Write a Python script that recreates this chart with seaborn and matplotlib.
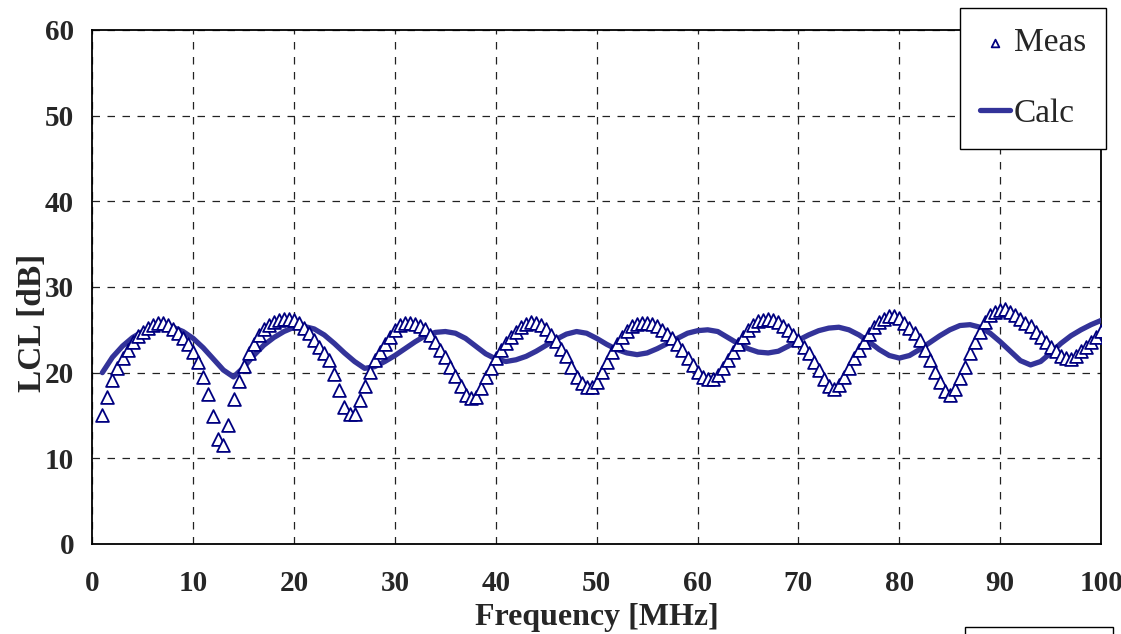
import numpy as np
import pandas as pd
import matplotlib
matplotlib.use('Agg')
import matplotlib.pyplot as plt
import seaborn as sns
from matplotlib.patches import Rectangle

# measured LCL, sweep 1 .. 100 MHz in 0.5 MHz steps
meas_freq = np.arange(1.0, 100.01, 0.5)
meas_lcl = [
    15.0, 17.2, 19.1, 20.6, 21.7, 22.7, 23.6, 24.3, 24.8, 25.2,   # 1.0 - 5.5
    25.6, 25.8, 25.8, 25.6, 25.1, 24.6, 24.0, 23.4, 22.4, 21.3,   # 6.0 - 10.5
    19.5, 17.5, 14.9, 12.2, 11.5, 13.9, 16.9, 19.0, 20.8, 22.3,   # 11.0 - 15.5
    23.4, 24.4, 25.1, 25.6, 25.9, 26.1, 26.3, 26.3, 26.1, 25.8,   # 16.0 - 20.5
    25.2, 24.6, 23.8, 23.0, 22.3, 21.5, 19.9, 18.0, 16.0, 15.2,   # 21.0 - 25.5
    15.2, 16.8, 18.4, 20.1, 21.5, 22.4, 23.4, 24.2, 25.0, 25.6,   # 26.0 - 30.5
    25.8, 25.8, 25.7, 25.4, 25.1, 24.4, 23.6, 22.7, 21.8, 20.7,   # 31.0 - 35.5
    19.6, 18.4, 17.4, 17.0, 17.2, 18.2, 19.5, 20.5, 21.7, 22.6,   # 36.0 - 40.5
    23.5, 24.2, 24.8, 25.3, 25.7, 25.9, 25.8, 25.6, 25.1, 24.4,   # 41.0 - 45.5
    23.7, 22.8, 21.9, 20.7, 19.5, 18.8, 18.3, 18.3, 18.9, 20.1,   # 46.0 - 50.5
    21.3, 22.4, 23.4, 24.2, 24.9, 25.4, 25.7, 25.8, 25.8, 25.7,   # 51.0 - 55.5
    25.4, 25.0, 24.5, 24.0, 23.4, 22.6, 21.7, 20.9, 20.1, 19.5,   # 56.0 - 60.5
    19.2, 19.2, 19.7, 20.5, 21.5, 22.4, 23.4, 24.2, 25.0, 25.6,   # 61.0 - 65.5
    26.0, 26.2, 26.3, 26.1, 25.9, 25.4, 25.0, 24.4, 23.8, 23.0,   # 66.0 - 70.5
    22.3, 21.3, 20.3, 19.3, 18.4, 18.1, 18.6, 19.5, 20.6, 21.7,   # 71.0 - 75.5
    22.6, 23.6, 24.5, 25.3, 25.9, 26.3, 26.6, 26.6, 26.4, 25.8,   # 76.0 - 80.5
    25.2, 24.6, 23.8, 22.7, 21.5, 20.1, 18.9, 17.8, 17.4, 18.1,   # 81.0 - 85.5
    19.4, 20.7, 22.3, 23.6, 24.8, 25.9, 26.7, 27.1, 27.3, 27.4,   # 86.0 - 90.5
    27.1, 26.7, 26.3, 25.8, 25.4, 24.8, 24.2, 23.6, 23.0, 22.5,   # 91.0 - 95.5
    21.9, 21.7, 21.6, 21.9, 22.5, 23.0, 23.6, 24.2, 24.9,         # 96.0 - 100.0
]

# calculated LCL, 1 MHz steps
calc_freq = np.arange(1, 101)
calc_lcl = [
    20.0, 21.8, 23.1, 24.1, 24.8, 25.3, 25.5, 25.3, 24.8, 24.0,   # 1 - 10
    22.9, 21.6, 20.3, 19.5, 20.6, 22.0, 23.2, 24.1, 24.8, 25.3,   # 11 - 20
    25.4, 25.1, 24.4, 23.4, 22.3, 21.3, 20.5, 20.7, 21.3, 22.0,   # 21 - 30
    22.8, 23.6, 24.3, 24.7, 24.8, 24.6, 24.0, 23.1, 22.2, 21.6,   # 31 - 40
    21.3, 21.5, 21.9, 22.5, 23.2, 23.9, 24.5, 24.8, 24.6, 24.0,   # 41 - 50
    23.3, 22.7, 22.3, 22.1, 22.3, 22.8, 23.4, 24.0, 24.6, 24.9,   # 51 - 60
    25.0, 24.8, 24.1, 23.4, 22.8, 22.4, 22.3, 22.5, 23.1, 23.8,   # 61 - 70
    24.4, 24.9, 25.2, 25.3, 25.0, 24.4, 23.6, 22.7, 22.0, 21.7,   # 71 - 80
    22.0, 22.7, 23.5, 24.3, 25.0, 25.5, 25.6, 25.3, 24.6, 23.6,   # 81 - 90
    22.5, 21.4, 20.9, 21.3, 22.3, 23.4, 24.3, 25.0, 25.6, 26.1,   # 91 - 100
]

x_ticks = list(range(0, 101, 10))
y_ticks = list(range(0, 61, 10))

meas = pd.DataFrame({"freq": meas_freq, "lcl": meas_lcl})
calc = pd.DataFrame({"freq": calc_freq, "lcl": calc_lcl})

sns.set_style("white")
plt.rcParams['font.family'] = ['Liberation Serif', 'DejaVu Serif']

fig = plt.figure(figsize=(11.21, 6.34), dpi=100)
ax = fig.add_axes([0.0823, 0.142, 0.900, 0.8107])

sns.lineplot(data=calc, x="freq", y="lcl", color="#333399", linewidth=3.8,
             label="Calc", ax=ax, zorder=3)
sns.scatterplot(data=meas, x="freq", y="lcl", marker="^", s=85,
                facecolor="white", edgecolor="#000080", linewidth=1.3,
                label="Meas", ax=ax, zorder=4)

ax.set_xlim(0, 100)
ax.set_ylim(0, 60)
ax.set_xticks(x_ticks)
ax.set_yticks(y_ticks)
ax.grid(True, color="#222222", linestyle=(0, (6, 6)), linewidth=0.9)
for s in ax.spines.values():
    s.set_color("black")
    s.set_linewidth(1.3)
ax.tick_params(axis='x', length=0, pad=19, labelsize=21)
ax.tick_params(axis='y', length=0, pad=13, labelsize=21)
for lab in ax.get_xticklabels() + ax.get_yticklabels():
    lab.set_fontweight('bold')

ax.set_xlabel("Frequency [MHz]", fontsize=23, fontweight='bold')
ax.xaxis.set_label_coords(0.5, -0.114)
ax.set_ylabel("LCL [dB]", fontsize=24, fontweight='bold')
ax.yaxis.set_label_coords(-0.044, 0.43)

h, l = ax.get_legend_handles_labels()
order = [l.index("Meas"), l.index("Calc")]
leg = ax.legend([h[i] for i in order], [l[i] for i in order],
                loc="upper left", bbox_to_anchor=(0.860, 1.043),
                fontsize=24, frameon=True, fancybox=False, framealpha=1,
                edgecolor="black", borderpad=0.6, labelspacing=1.2,
                handlelength=0.9, handletextpad=0.12, borderaxespad=0,
                markerscale=0.6)
leg.get_frame().set_linewidth(1.0)
leg.set_zorder(10)

# partial box cut by the lower edge of the picture
fig.patches.append(Rectangle((965 / 1121, -0.05), 148 / 1121, 0.061,
                             transform=fig.transFigure, fill=False,
                             edgecolor="black", linewidth=1.0))

fig.savefig("out.png", dpi=100)
